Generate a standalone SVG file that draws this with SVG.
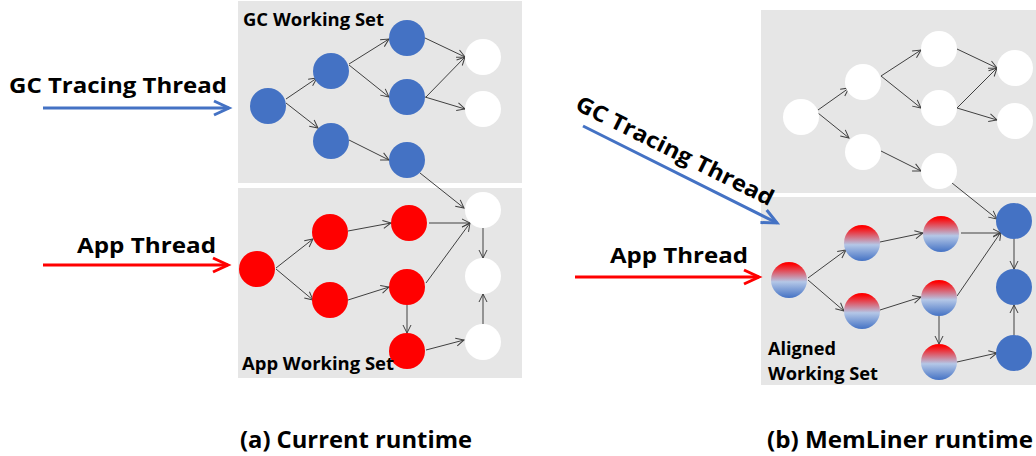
<svg xmlns="http://www.w3.org/2000/svg" width="1036" height="456" viewBox="0 0 1036 456">
<defs>
<style>
.panel{fill:#e6e6e6}
.blue{fill:#4472c4}
.red{fill:#ff0000}
.white{fill:#ffffff}
.mix{fill:url(#grad)}
.edge{stroke:#404040;stroke-width:1;fill:none;marker-end:url(#ah)}
.lbl{font-family:"Open Sans","Liberation Sans",sans-serif;font-weight:bold;fill:#000}
.thr{stroke-width:3;fill:none}
</style>
<linearGradient id="grad" x1="0" y1="0" x2="0" y2="1">
<stop offset="0.05" stop-color="#ff0000"/>
<stop offset="0.55" stop-color="#b4c7e7"/>
<stop offset="1" stop-color="#4472c4"/>
</linearGradient>
<marker id="ah" markerWidth="10" markerHeight="10" refX="9" refY="5" orient="auto" markerUnits="userSpaceOnUse" overflow="visible">
<path d="M1,1 L9,5 L1,9" fill="none" stroke="#404040" stroke-width="1"/>
</marker>
<marker id="ahBlue" markerWidth="18" markerHeight="16" refX="16" refY="8" orient="auto" markerUnits="userSpaceOnUse" overflow="visible">
<path d="M1,1 L16,8 L1,15" fill="none" stroke="#4472c4" stroke-width="3"/>
</marker>
<marker id="ahRed" markerWidth="18" markerHeight="16" refX="16" refY="8" orient="auto" markerUnits="userSpaceOnUse" overflow="visible">
<path d="M1,1 L16,8 L1,15" fill="none" stroke="#ff0000" stroke-width="3"/>
</marker>
</defs>
<rect width="1036" height="456" fill="#ffffff"/>

<g id="panels">
<rect class="panel" x="238" y="1" width="284" height="182"/>
<rect class="panel" x="238" y="188" width="284" height="190"/>
<rect class="panel" x="761" y="10" width="275" height="183"/>
<rect class="panel" x="761" y="197" width="275" height="188"/>
</g>

<g id="connectors">
<!-- (a) top -->
<line class="edge" x1="286" y1="99" x2="317" y2="78"/>
<line class="edge" x1="286" y1="103" x2="318" y2="128"/>
<line class="edge" x1="349" y1="64" x2="389" y2="39"/>
<line class="edge" x1="349" y1="65" x2="389" y2="97"/>
<line class="edge" x1="425" y1="38" x2="465" y2="57"/>
<line class="edge" x1="426" y1="97" x2="465" y2="57"/>
<line class="edge" x1="425" y1="97" x2="465" y2="109"/>
<line class="edge" x1="349" y1="140" x2="389" y2="160"/>
<line class="edge" x1="420" y1="173" x2="464" y2="208"/>
<!-- (a) bottom -->
<line class="edge" x1="276" y1="268" x2="313" y2="239"/>
<line class="edge" x1="276" y1="269" x2="313" y2="300"/>
<line class="edge" x1="348" y1="231" x2="391" y2="223"/>
<line class="edge" x1="429" y1="223" x2="470" y2="223"/>
<line class="edge" x1="348" y1="300" x2="389" y2="287"/>
<line class="edge" x1="426" y1="283" x2="470" y2="223"/>
<line class="edge" x1="407" y1="305" x2="407" y2="333"/>
<line class="edge" x1="426" y1="350" x2="464" y2="340"/>
<line class="edge" x1="483" y1="228" x2="483" y2="258"/>
<line class="edge" x1="483" y1="324" x2="483" y2="294"/>
<!-- (b) top -->
<line class="edge" x1="818" y1="110" x2="849" y2="88"/>
<line class="edge" x1="818" y1="113" x2="849" y2="138"/>
<line class="edge" x1="881" y1="76" x2="921" y2="50"/>
<line class="edge" x1="881" y1="76" x2="921" y2="108"/>
<line class="edge" x1="957" y1="49" x2="997" y2="68"/>
<line class="edge" x1="957" y1="108" x2="997" y2="68"/>
<line class="edge" x1="957" y1="108" x2="997" y2="120"/>
<line class="edge" x1="881" y1="151" x2="921" y2="171"/>
<line class="edge" x1="952" y1="183" x2="997" y2="219"/>
<!-- (b) bottom -->
<line class="edge" x1="808" y1="278" x2="846" y2="250"/>
<line class="edge" x1="808" y1="280" x2="844" y2="311"/>
<line class="edge" x1="880" y1="242" x2="923" y2="233"/>
<line class="edge" x1="961" y1="233" x2="1001" y2="233"/>
<line class="edge" x1="957" y1="296" x2="1001" y2="232"/>
<line class="edge" x1="880" y1="310" x2="921" y2="297"/>
<line class="edge" x1="939" y1="316" x2="939" y2="344"/>
<line class="edge" x1="957" y1="362" x2="997" y2="353"/>
<line class="edge" x1="1014" y1="239" x2="1014" y2="269"/>
<line class="edge" x1="1014" y1="335" x2="1014" y2="305"/>
<!-- thread arrows -->
<line class="thr" stroke="#4472c4" x1="43" y1="108" x2="229" y2="108" marker-end="url(#ahBlue)"/>
<line class="thr" stroke="#ff0000" x1="43" y1="265" x2="228" y2="265" marker-end="url(#ahRed)"/>
<line class="thr" stroke="#4472c4" x1="583" y1="126" x2="777" y2="223" marker-end="url(#ahBlue)"/>
<line class="thr" stroke="#ff0000" x1="575" y1="277" x2="759" y2="277" marker-end="url(#ahRed)"/>
</g>

<!-- (a) nodes -->
<g id="a-gc1"><circle class="blue" cx="268" cy="106" r="18"/></g>
<g id="a-gc2"><circle class="blue" cx="331" cy="71" r="18"/></g>
<g id="a-gc3"><circle class="blue" cx="407" cy="38" r="18"/></g>
<g id="a-gc4"><circle class="blue" cx="407" cy="97" r="18"/></g>
<g id="a-gc5"><circle class="blue" cx="331" cy="141" r="18"/></g>
<g id="a-gc6"><circle class="blue" cx="407" cy="160" r="18"/></g>
<g id="a-w1"><circle class="white" cx="483" cy="57" r="18"/></g>
<g id="a-w2"><circle class="white" cx="483" cy="109" r="18"/></g>
<g id="a-app1"><circle class="red" cx="257" cy="269" r="18"/></g>
<g id="a-app2"><circle class="red" cx="330" cy="232" r="18"/></g>
<g id="a-app3"><circle class="red" cx="409" cy="223" r="18"/></g>
<g id="a-app4"><circle class="red" cx="330" cy="300" r="18"/></g>
<g id="a-app5"><circle class="red" cx="407" cy="287" r="18"/></g>
<g id="a-app6"><circle class="red" cx="407" cy="351" r="18"/></g>
<g id="a-w3"><circle class="white" cx="483" cy="210" r="18"/></g>
<g id="a-w4"><circle class="white" cx="483" cy="276" r="18"/></g>
<g id="a-w5"><circle class="white" cx="483" cy="342" r="18"/></g>

<!-- (b) nodes -->
<g id="b-w1"><circle class="white" cx="801" cy="117" r="18"/></g>
<g id="b-w2"><circle class="white" cx="863" cy="82" r="18"/></g>
<g id="b-w3"><circle class="white" cx="939" cy="49" r="18"/></g>
<g id="b-w4"><circle class="white" cx="939" cy="108" r="18"/></g>
<g id="b-w5"><circle class="white" cx="863" cy="152" r="18"/></g>
<g id="b-w6"><circle class="white" cx="939" cy="171" r="18"/></g>
<g id="b-w7"><circle class="white" cx="1015" cy="68" r="18"/></g>
<g id="b-w8"><circle class="white" cx="1015" cy="121" r="18"/></g>
<g id="b-m1"><circle class="mix" cx="789" cy="280" r="18"/></g>
<g id="b-m2"><circle class="mix" cx="862" cy="243" r="18"/></g>
<g id="b-m3"><circle class="mix" cx="941" cy="234" r="18"/></g>
<g id="b-m4"><circle class="mix" cx="862" cy="311" r="18"/></g>
<g id="b-m5"><circle class="mix" cx="939" cy="298" r="18"/></g>
<g id="b-m6"><circle class="mix" cx="939" cy="362" r="18"/></g>
<g id="b-k1"><circle class="blue" cx="1014" cy="221" r="18"/></g>
<g id="b-k2"><circle class="blue" cx="1014" cy="287" r="18"/></g>
<g id="b-k3"><circle class="blue" cx="1014" cy="353" r="18"/></g>

<g id="labels">
<text class="lbl" x="243" y="26" font-size="18" textLength="141" lengthAdjust="spacingAndGlyphs">GC Working Set</text>
<text class="lbl" x="242" y="370" font-size="18" textLength="152" lengthAdjust="spacingAndGlyphs">App Working Set</text>
<text class="lbl" x="9" y="93" font-size="22" textLength="218" lengthAdjust="spacingAndGlyphs">GC Tracing Thread</text>
<text class="lbl" x="77" y="253" font-size="22" textLength="139" lengthAdjust="spacingAndGlyphs">App Thread</text>
<text class="lbl" x="0" y="0" font-size="22" textLength="218" lengthAdjust="spacingAndGlyphs" transform="translate(574,109) rotate(26.5)">GC Tracing Thread</text>
<text class="lbl" x="610" y="263" font-size="22" textLength="138" lengthAdjust="spacingAndGlyphs">App Thread</text>
<text class="lbl" x="768" y="355" font-size="18" textLength="68" lengthAdjust="spacingAndGlyphs">Aligned</text>
<text class="lbl" x="768" y="380" font-size="18" textLength="110" lengthAdjust="spacingAndGlyphs">Working Set</text>
<text class="lbl" x="240" y="448" font-size="23" textLength="232" lengthAdjust="spacingAndGlyphs">(a) Current runtime</text>
<text class="lbl" x="767" y="448" font-size="23" textLength="266" lengthAdjust="spacingAndGlyphs">(b) MemLiner runtime</text>
</g>
</svg>
